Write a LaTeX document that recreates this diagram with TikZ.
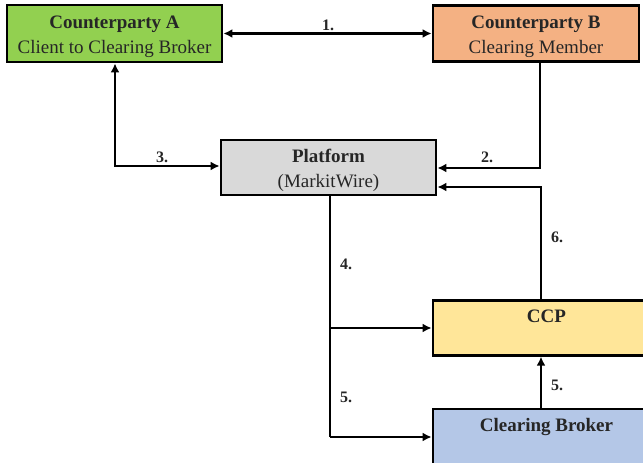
\documentclass[tikz,border=0pt]{standalone}
\usepackage{fontspec}
\setmainfont{Liberation Serif}
\usetikzlibrary{arrows.meta}
\definecolor{cA}{HTML}{92D050}
\definecolor{cB}{HTML}{F4B183}
\definecolor{cP}{HTML}{D9D9D9}
\definecolor{cC}{HTML}{FFE699}
\definecolor{cD}{HTML}{B4C7E7}
\newcommand{\upstrut}{\rule{0pt}{20pt}}
\begin{document}
\begin{tikzpicture}[x=1pt,y=-1pt,
  box/.style={draw=black, line width=2.8pt, align=center, inner sep=0pt,
    font=\fontsize{19}{25}\selectfont, text=black!85},
  conn/.style={line width=2.8pt, -{Latex[length=9pt,width=9pt]}},
  bidir/.style={line width=2.8pt, {Latex[length=9pt,width=9pt]}-{Latex[length=9pt,width=9pt]}},
  plain/.style={line width=2.8pt},
  lab/.style={font=\bfseries\fontsize{16}{18}\selectfont, text=black!85, inner sep=0pt}]
\useasboundingbox (0,0) rectangle (643,463);
\clip (0,0) rectangle (643,463);
\node[box, fill=cA, minimum width=215, minimum height=57] (A) at (114.5,33.5)
  {\upstrut\textbf{Counterparty A}\\Client to Clearing Broker};
\node[box, fill=cB, minimum width=206, minimum height=56] (B) at (536,33.5)
  {\upstrut\textbf{Counterparty B}\\Clearing Member};
\node[box, fill=cP, minimum width=215, minimum height=55] (P) at (328.5,167.5)
  {\upstrut\textbf{Platform}\\(MarkitWire)};
\node[box, fill=cC, minimum width=227, minimum height=54] (C) at (546.5,328)
  {\rule{0pt}{22pt}\textbf{CCP}\\\strut};
\node[box, fill=cD, minimum width=227, minimum height=58] (D) at (546.5,438)
  {\rule{0pt}{19pt}\textbf{Clearing Broker}\\\strut};
\coordinate (c3) at (115,166);
\coordinate (c2) at (540,168);
\coordinate (c6) at (541,187);
\coordinate (c4) at (330,328);
\coordinate (c5) at (330,437);
\draw[bidir] (A.east) -- (A.east -| B.west);
\draw[bidir] (A.south -| c3) -- (c3) -- (P.west |- c3);
\draw[conn] (B.south -| c2) -- (c2) -- (P.east |- c2);
\draw[conn] (C.north -| c6) -- (c6) -- (P.east |- c6);
\draw[plain] (P.south -| c4) -- (c5);
\draw[conn] (c4) -- (C.west |- c4);
\draw[conn] (c5) -- (D.west |- c5);
\draw[conn] (D.north -| c6) -- (C.south -| c6);
\node[lab] (l1) at (328,25) {1.};
\node[lab] (l3) at (162,157) {3.};
\node[lab] (l2) at (487,157) {2.};
\node[lab] (l6) at (557,237) {6.};
\node[lab] (l4) at (346,264) {4.};
\node[lab] (l5a) at (346,397) {5.};
\node[lab] (l5b) at (557,385) {5.};
\end{tikzpicture}
\end{document}
